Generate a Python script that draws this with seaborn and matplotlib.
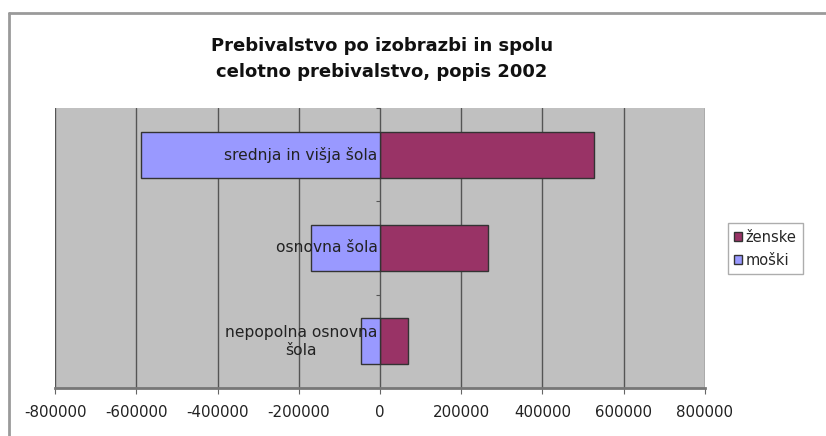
import pandas as pd
import matplotlib
matplotlib.use('Agg')
import matplotlib.pyplot as plt
import seaborn as sns
from matplotlib.lines import Line2D
from matplotlib.patches import Patch

# Data
categories = ['srednja in višja šola', 'osnovna šola', 'nepopolna osnovna\nšola']
moski = [-588000, -171000, -48000]
zenske = [527000, 267000, 70000]
x_ticks = [-800000, -600000, -400000, -200000, 0, 200000, 400000, 600000, 800000]

sns.set_style('white')
plt.rcParams['font.family'] = ['DejaVu Sans']

df = pd.DataFrame({
    'cat': categories * 2,
    'value': zenske + moski,
    'spol': ['ženske'] * 3 + ['moški'] * 3,
})
colors = {'ženske': '#993366', 'moški': '#9999FF'}

fig = plt.figure(figsize=(8.26, 4.36), dpi=100)
ax = fig.add_axes([0.0666, 0.1101, 0.7869, 0.6422])
ax.set_facecolor('#C0C0C0')

sns.barplot(data=df, x='value', y='cat', hue='spol', dodge=False, orient='h',
            palette=colors, width=0.49, edgecolor='#333333', linewidth=1,
            saturation=1, legend=False, ax=ax, zorder=2)

ax.set_xlim(-800000, 800000)
ax.set_ylim(2.5, -0.5)
ax.set_xticks(x_ticks)
ax.set_xticklabels([str(v) for v in x_ticks], fontsize=10.8, color='#222222')
ax.grid(axis='x', color='#555555', linewidth=1, zorder=0)
ax.set_axisbelow(True)

# category boundary ticks on the zero line
ax.set_yticks([-0.5, 0.5, 1.5, 2.5])
ax.set_yticklabels([])
ax.spines['left'].set_position(('data', 0))
ax.spines['left'].set_visible(False)
ax.tick_params(axis='y', length=3, color='#555555', direction='out', left=True)
ax.tick_params(axis='x', length=4, color='#666666', bottom=True, pad=8)
for s in ['top', 'right']:
    ax.spines[s].set_visible(False)
ax.spines['bottom'].set_color('#777777')
ax.spines['bottom'].set_linewidth(2)
ax.set_xlabel('')
ax.set_ylabel('')

# category labels sit against the zero line, over the bars
for i, c in enumerate(categories):
    ax.text(-6000, i, c, ha='right', va='center', multialignment='center',
            fontsize=11.2, color='#222222', zorder=5, linespacing=1.25)

fig.text(0.462, 0.864, 'Prebivalstvo po izobrazbi in spolu\ncelotno prebivalstvo, popis 2002',
         ha='center', va='center', fontsize=13, fontweight='bold', linespacing=1.55,
         color='#111111')

handles = [Patch(facecolor=colors['ženske'], edgecolor='#333333', label='ženske'),
           Patch(facecolor=colors['moški'], edgecolor='#333333', label='moški')]
leg = fig.legend(handles=handles, loc='center left', bbox_to_anchor=(0.881, 0.43),
                 fontsize=10.5, frameon=True, fancybox=False, handlelength=0.55,
                 handleheight=0.55, handletextpad=0.2, borderpad=0.45, labelspacing=0.55,
                 borderaxespad=0)
leg.get_frame().set_edgecolor('#999999')
leg.get_frame().set_linewidth(1)

# outer chart border
fig.add_artist(Line2D([0.0109, 1.0], [0.970, 0.970], color='#9a9a9a', lw=2))
fig.add_artist(Line2D([0.0109, 0.0109], [0.0, 0.970], color='#9a9a9a', lw=2))

fig.savefig('out.png', dpi=100)
